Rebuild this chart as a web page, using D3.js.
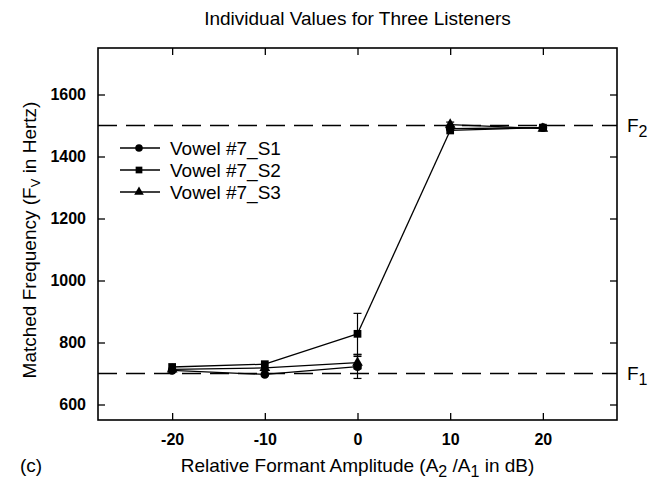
<!DOCTYPE html>
<html>
<head>
<meta charset="utf-8">
<script src="https://cdn.jsdelivr.net/npm/d3@7"></script>
<style>
  body { margin: 0; background: #fff; }
  svg { font-family: "Liberation Sans", Arial, Helvetica, sans-serif; }
</style>
</head>
<body>
<div id="chart"></div>
<script>
// Data
var levels = [-20, -10, 0, 10, 20];            // A2/A1 in dB
var s1Values = [710, 697, 722, 1490, 1493];     // Vowel #7_S1
var s2Values = [721, 730, 828, 1484, 1493];     // Vowel #7_S2
var s3Values = [713, 718, 735, 1503, 1490];     // Vowel #7_S3
var s1Errors = [0, 0, 38, 0, 0];
var s2Errors = [0, 0, 66, 0, 0];
var s3Errors = [0, 0, 20, 8, 0];
// which consecutive points are joined by a line (only S2 shows the 0 -> 10 rise)
var s1Joins = [true, true, false, true];
var s2Joins = [true, true, true, true];
var s3Joins = [true, true, false, true];
var seriesNames = ["Vowel #7_S1", "Vowel #7_S2", "Vowel #7_S3"];
var xTicks = [-20, -10, 0, 10, 20];
var yTicks = [600, 800, 1000, 1200, 1400, 1600];
var formants = [700, 1500];

var series = [
  { name: seriesNames[0], values: s1Values, errors: s1Errors, joins: s1Joins, symbol: d3.symbolCircle },
  { name: seriesNames[1], values: s2Values, errors: s2Errors, joins: s2Joins, symbol: d3.symbolSquare },
  { name: seriesNames[2], values: s3Values, errors: s3Errors, joins: s3Joins, symbol: d3.symbolTriangle }
];

// Standard Margin Convention
var margin = {top: 48, right: 48, bottom: 68, left: 98};
var width = 665 - margin.left - margin.right;
var height = 488 - margin.top - margin.bottom;

var xScale = d3.scaleLinear().domain([-28, 28]).range([0, width]);
var yScale = d3.scaleLinear().domain([550, 1750]).range([height, 0]);

var root = d3.select("#chart").append("svg")
  .attr("width", 665)
  .attr("height", 488);

var svg = root.append("g")
  .attr("transform", `translate(${margin.left},${margin.top})`);

// Title
root.append("text")
  .attr("x", margin.left + width / 2)
  .attr("y", 25)
  .attr("text-anchor", "middle")
  .attr("font-size", 19)
  .text("Individual Values for Three Listeners");

// Axes with inward ticks
svg.append("g")
  .attr("transform", "translate(0," + height + ")")
  .call(d3.axisBottom(xScale).tickValues(xTicks).tickSizeInner(-7).tickSizeOuter(0).tickPadding(14)
    .tickFormat(function(d) { return d < 0 ? "-" + Math.abs(d) : d; }));
svg.append("g")
  .call(d3.axisTop(xScale).tickValues(xTicks).tickSizeInner(-7).tickSizeOuter(0).tickFormat(""));
svg.append("g")
  .call(d3.axisLeft(yScale).tickValues(yTicks).tickSizeInner(-7).tickSizeOuter(0).tickPadding(12)
    .tickFormat(d3.format("d")));
svg.append("g")
  .attr("transform", "translate(" + width + ",0)")
  .call(d3.axisRight(yScale).tickValues(yTicks).tickSizeInner(-7).tickSizeOuter(0).tickFormat(""));

svg.selectAll(".domain").remove();
svg.selectAll(".tick line").attr("stroke", "#000").attr("stroke-width", 1.3);
svg.selectAll(".tick text")
  .attr("font-family", "\"Liberation Sans\", Arial, sans-serif")
  .attr("font-size", 16)
  .attr("font-weight", "bold")
  .attr("fill", "#000");

// Frame
svg.append("rect")
  .attr("width", width)
  .attr("height", height)
  .attr("fill", "none")
  .attr("stroke", "#000")
  .attr("stroke-width", 1.6);

// Formant reference lines
svg.selectAll(".formant")
  .data(formants)
  .enter().append("line")
  .attr("class", "formant")
  .attr("x1", 0)
  .attr("x2", width)
  .attr("y1", function(d) { return yScale(d); })
  .attr("y2", function(d) { return yScale(d); })
  .attr("stroke", "#000")
  .attr("stroke-width", 1.3)
  .attr("stroke-dasharray", "19,9");

// F1 / F2 labels
var fLabels = root.selectAll(".flabel")
  .data(formants)
  .enter().append("text")
  .attr("class", "flabel")
  .attr("x", margin.left + width + 10)
  .attr("y", function(d) { return margin.top + yScale(d) + 6; })
  .attr("font-size", 19);
fLabels.append("tspan").text("F");
fLabels.append("tspan").attr("dy", 5).attr("font-size", 16)
  .text(function(d, i) { return i === 0 ? "1" : "2"; });

// Series lines, error bars and markers
var line = d3.line()
  .x(function(d) { return xScale(d[0]); })
  .y(function(d) { return yScale(d[1]); });

series.forEach(function(s) {
  var segments = s.joins.map(function(j, i) {
    return j ? [[levels[i], s.values[i]], [levels[i + 1], s.values[i + 1]]] : null;
  }).filter(function(d) { return d; });

  svg.append("g").selectAll("path")
    .data(segments)
    .enter().append("path")
    .attr("fill", "none")
    .attr("stroke", "#000")
    .attr("stroke-width", 1.3)
    .attr("d", line);

  var errs = svg.append("g").selectAll("g")
    .data(s.values.map(function(v, i) { return {x: levels[i], y: v, e: s.errors[i]}; })
      .filter(function(d) { return d.e > 0; }))
    .enter().append("g")
    .attr("stroke", "#000")
    .attr("stroke-width", 1.2);
  errs.append("line")
    .attr("x1", function(d) { return xScale(d.x); })
    .attr("x2", function(d) { return xScale(d.x); })
    .attr("y1", function(d) { return yScale(d.y - d.e); })
    .attr("y2", function(d) { return yScale(d.y + d.e); });
  errs.append("line")
    .attr("x1", function(d) { return xScale(d.x) - 4; })
    .attr("x2", function(d) { return xScale(d.x) + 4; })
    .attr("y1", function(d) { return yScale(d.y + d.e); })
    .attr("y2", function(d) { return yScale(d.y + d.e); });
  errs.append("line")
    .attr("x1", function(d) { return xScale(d.x) - 4; })
    .attr("x2", function(d) { return xScale(d.x) + 4; })
    .attr("y1", function(d) { return yScale(d.y - d.e); })
    .attr("y2", function(d) { return yScale(d.y - d.e); });

  svg.append("g").selectAll("path")
    .data(s.values)
    .enter().append("path")
    .attr("transform", function(d, i) { return "translate(" + xScale(levels[i]) + "," + yScale(d) + ")"; })
    .attr("d", d3.symbol().type(s.symbol).size(s.symbol === d3.symbolTriangle ? 50 : 60))
    .attr("fill", "#000");
});

// Legend
var legend = svg.append("g")
  .attr("transform", "translate(22,100)");
var rows = legend.selectAll("g")
  .data(series)
  .enter().append("g")
  .attr("transform", function(d, i) { return "translate(0," + (i * 22) + ")"; });
rows.append("line")
  .attr("x1", 0).attr("x2", 40)
  .attr("stroke", "#000").attr("stroke-width", 1.3);
rows.append("path")
  .attr("transform", "translate(19,0)")
  .attr("d", function(d) { return d3.symbol().type(d.symbol).size(d.symbol === d3.symbolTriangle ? 40 : 45)(); })
  .attr("fill", "#000");
rows.append("text")
  .attr("x", 50)
  .attr("y", 7)
  .attr("font-size", 19)
  .text(function(d) { return d.name; });

// Axis titles
var xTitle = root.append("text")
  .attr("x", margin.left + width / 2)
  .attr("y", 472)
  .attr("text-anchor", "middle")
  .attr("font-size", 19);
xTitle.append("tspan").text("Relative Formant Amplitude (A");
xTitle.append("tspan").attr("dy", 5).attr("font-size", 16).text("2");
xTitle.append("tspan").attr("dy", -5).text(" /A");
xTitle.append("tspan").attr("dy", 5).attr("font-size", 16).text("1");
xTitle.append("tspan").attr("dy", -5).text(" in dB)");

root.append("text")
  .attr("x", 20)
  .attr("y", 472)
  .attr("font-size", 19)
  .text("(c)");

var yTitle = root.append("text")
  .attr("transform", "translate(36," + (margin.top + height / 2 + 6) + ") rotate(-90)")
  .attr("text-anchor", "middle")
  .attr("font-size", 19);
yTitle.append("tspan").text("Matched Frequency (F");
yTitle.append("tspan").attr("dy", 4).attr("font-size", 13).text("V");
yTitle.append("tspan").attr("dy", -4).text("  in Hertz)");
</script>
</body>
</html>
